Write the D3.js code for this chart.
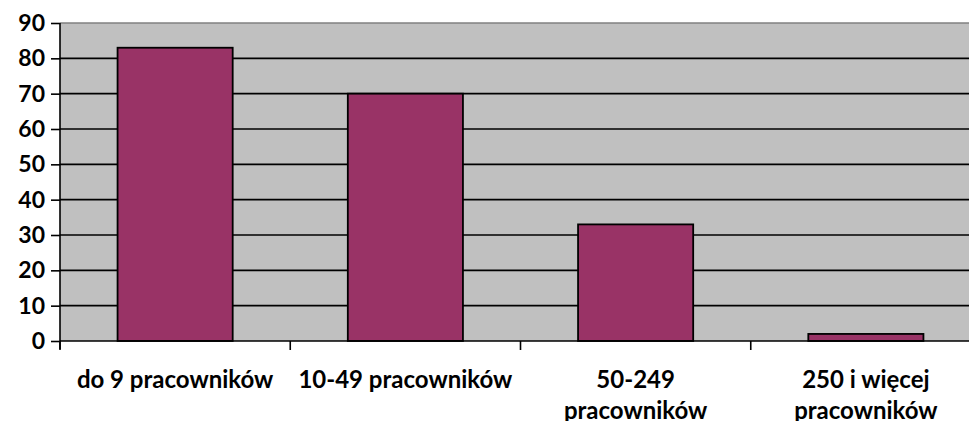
<!DOCTYPE html>
<html lang="pl">
<head>
<meta charset="UTF-8">
<title>Pracownicy</title>
<style>
  body { margin: 0; background: #fff; }
  text { font-family: Lato, "Open Sans", sans-serif; font-weight: bold; fill: #000; }
</style>
</head>
<body>
<svg width="969" height="421" id="viz"></svg>
<script src="https://d3js.org/d3.v7.min.js"></script>
<script>
// data
const categories = ["do 9 pracowników", "10-49 pracowników", "50-249 pracowników", "250 i więcej pracowników"];
const labelLines = [["do 9 pracowników"], ["10-49 pracowników"], ["50-249", "pracowników"], ["250 i więcej", "pracowników"]];
const values = [83, 70, 33, 2];
const yTicks = [0, 10, 20, 30, 40, 50, 60, 70, 80, 90];

const svg = d3.select("#viz");
const margin = {top: 23, left: 60, bottom: 80},
      plotRight = 981,
      height = 421 - margin.top - margin.bottom;

const x = d3.scaleBand()
    .domain(categories)
    .range([margin.left, plotRight])
    .paddingInner(0.5)
    .paddingOuter(0.25);

const y = d3.scaleLinear()
    .domain([0, 90])
    .range([margin.top + height, margin.top]);

// plot background
svg.append("rect")
    .attr("x", margin.left).attr("y", y(90))
    .attr("width", plotRight - margin.left).attr("height", y(0) - y(90))
    .style("fill", "#c0c0c0");

// gridlines
svg.selectAll(".grid")
  .data(yTicks.filter(d => d > 0 && d < 90))
  .enter().append("line")
    .attr("class", "grid")
    .attr("x1", margin.left).attr("x2", plotRight)
    .attr("y1", d => y(d)).attr("y2", d => y(d))
    .style("stroke", "#000").style("stroke-width", 1.6);

svg.append("line")
    .attr("x1", margin.left).attr("x2", plotRight)
    .attr("y1", y(90)).attr("y2", y(90))
    .style("stroke", "#808080").style("stroke-width", 1.6);

// bars
svg.selectAll(".bar")
  .data(values)
  .enter().append("rect")
    .attr("class", "bar")
    .attr("x", (d, i) => x(categories[i]))
    .attr("y", d => y(d))
    .attr("width", x.bandwidth())
    .attr("height", d => y(0) - y(d))
    .style("fill", "#993366")
    .style("stroke", "#000")
    .style("stroke-width", 1.8);

// y axis
const yAxis = svg.append("g")
    .attr("transform", `translate(${margin.left},0)`)
    .call(d3.axisLeft(y).tickValues(yTicks).tickSize(9).tickPadding(6));
yAxis.select(".domain").attr("d", `M0,${y(90)}V${y(0) + 8}`).style("stroke-width", 1.6);
yAxis.selectAll(".tick line").style("stroke-width", 1.6);
yAxis.selectAll("text").style("font-size", "23px").style("font-family", "Lato, sans-serif").style("font-weight", "bold");

// x axis
const edges = categories.map(c => x(c) - x.step() * x.paddingInner() / 2);
edges.push(plotRight);
const xAxis = svg.append("g")
    .attr("transform", `translate(0,${y(0)})`);
xAxis.append("line")
    .attr("x1", margin.left).attr("x2", plotRight)
    .style("stroke", "#000").style("stroke-width", 1.6);
xAxis.selectAll(".xt")
  .data(edges)
  .enter().append("line")
    .attr("class", "xt")
    .attr("x1", d => d).attr("x2", d => d)
    .attr("y1", 0).attr("y2", 9)
    .style("stroke", "#000").style("stroke-width", 1.6);

const labels = svg.selectAll(".xl")
  .data(categories)
  .enter().append("text")
    .attr("class", "xl")
    .attr("x", d => x(d) + x.bandwidth() / 2)
    .attr("y", 388)
    .attr("text-anchor", "middle")
    .style("font-size", "24px");
labels.selectAll("tspan")
  .data((d, i) => labelLines[i])
  .enter().append("tspan")
    .attr("x", function() { return d3.select(this.parentNode).attr("x"); })
    .attr("dy", (d, i) => i === 0 ? 0 : 31)
    .text(d => d);
</script>
</body>
</html>
